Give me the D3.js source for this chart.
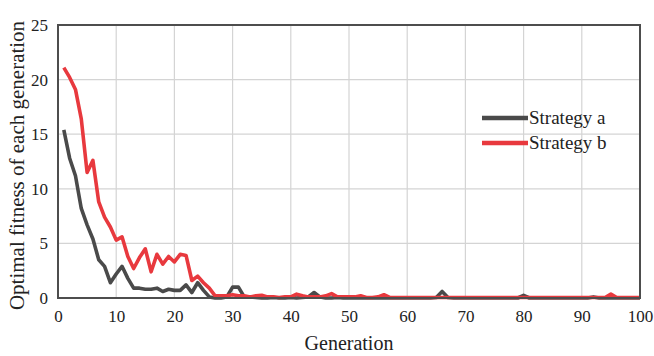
<!DOCTYPE html>
<html>
<head>
<meta charset="utf-8">
<script src="https://d3js.org/d3.v7.min.js"></script>
<style>
	body { margin: 0; background: #fff; }
	svg text { font-family: 'Liberation Serif', 'Times New Roman', Times, serif !important; fill: #222; }
</style>
</head>
<body>
<svg id="chart" width="654" height="356"></svg>
<script>
// Optimal fitness per generation, two strategies

var xTicks = [0, 10, 20, 30, 40, 50, 60, 70, 80, 90, 100];
var yTicks = [0, 5, 10, 15, 20, 25];
var seriesNames = ["Strategy a", "Strategy b"];
var seriesColors = ["#4a4a4a", "#e8393e"];

var stratA = [
	15.4, 12.8, 11.2, 8.2, 6.7, 5.4, 3.5, 2.9, 1.4, 2.2,
	2.9, 1.8, 0.9, 0.9, 0.8, 0.8, 0.9, 0.6, 0.8, 0.7,
	0.7, 1.2, 0.5, 1.4, 0.7, 0.1, 0, 0, 0.1, 1.0,
	1.0, 0.1, 0.1, 0.05, 0, 0, 0.05, 0, 0, 0.05,
	0, 0.05, 0.1, 0.5, 0.1, 0, 0, 0.05, 0, 0,
	0, 0, 0, 0, 0, 0, 0, 0, 0, 0,
	0, 0, 0, 0, 0.05, 0.6, 0.05, 0, 0, 0,
	0, 0, 0, 0, 0, 0, 0, 0, 0, 0.25,
	0, 0, 0, 0, 0, 0, 0, 0, 0, 0,
	0, 0.1, 0, 0, 0, 0, 0, 0, 0, 0
];

var stratB = [
	21.1, 20.2, 19.1, 16.4, 11.5, 12.6, 8.8, 7.4, 6.5, 5.3,
	5.6, 3.8, 2.7, 3.7, 4.5, 2.4, 4.0, 3.1, 3.8, 3.3,
	4.0, 3.9, 1.6, 2.0, 1.4, 0.9, 0.2, 0.2, 0.2, 0.3,
	0.2, 0.2, 0.1, 0.2, 0.25, 0.1, 0.1, 0.05, 0.1, 0.1,
	0.35, 0.2, 0.1, 0.1, 0.1, 0.2, 0.4, 0.1, 0.1, 0.1,
	0.1, 0.2, 0.05, 0.05, 0.1, 0.3, 0.05, 0.05, 0.05, 0.05,
	0.05, 0.05, 0.05, 0.05, 0.05, 0.05, 0.05, 0.05, 0.05, 0.05,
	0.05, 0.05, 0.05, 0.05, 0.05, 0.05, 0.05, 0.05, 0.05, 0.05,
	0.05, 0.05, 0.05, 0.05, 0.05, 0.05, 0.05, 0.05, 0.05, 0.05,
	0.05, 0.05, 0.05, 0.05, 0.35, 0.05, 0.05, 0.05, 0.05, 0.05
];

var FONT = "'Liberation Serif', 'Times New Roman', Times, serif";
var margin = { left: 58, top: 25, right: 14, bottom: 58 };
var W = 654, H = 356;
var pw = W - margin.left - margin.right;
var ph = H - margin.top - margin.bottom;

var svg = d3.select("#chart").attr("font-family", FONT);
var g = svg.append("g").attr("transform", "translate(" + margin.left + "," + margin.top + ")");

var x = d3.scaleLinear().domain([0, 100]).range([0, pw]);
var y = d3.scaleLinear().domain([0, 25]).range([ph, 0]);

	// grid
g.selectAll(".vgrid").data(xTicks.slice(1, -1)).enter().append("line")
	.attr("x1", function(d) { return x(d); }).attr("x2", function(d) { return x(d); })
	.attr("y1", 0).attr("y2", ph)
	.attr("stroke", "#d4d4d4").attr("stroke-width", 1.2);
g.selectAll(".hgrid").data(yTicks.slice(1, -1)).enter().append("line")
	.attr("x1", 0).attr("x2", pw)
	.attr("y1", function(d) { return y(d); }).attr("y2", function(d) { return y(d); })
	.attr("stroke", "#d4d4d4").attr("stroke-width", 1.2);

	// axes (labels only, frame drawn separately)
var xAxis = g.append("g").attr("transform", "translate(0," + ph + ")")
	.call(d3.axisBottom(x).tickValues(xTicks).tickSize(0).tickPadding(12));
var yAxis = g.append("g")
	.call(d3.axisLeft(y).tickValues(yTicks).tickSize(0).tickPadding(10));
[xAxis, yAxis].forEach(function(a) {
	a.attr("font-family", FONT).attr("font-size", 17);
	a.select(".domain").remove();
});

	// series
var line = d3.line()
	.x(function(d, i) { return x(i + 1); })
	.y(function(d) { return y(d); });
[stratA, stratB].forEach(function(s, k) {
	g.append("path").datum(s)
		.attr("d", line)
		.attr("fill", "none")
		.attr("stroke", seriesColors[k])
		.attr("stroke-width", 3.6)
		.attr("stroke-linejoin", "round");
});

	// frame
g.append("rect").attr("x", 0).attr("y", 0).attr("width", pw).attr("height", ph)
	.attr("fill", "none").attr("stroke", "#4d4d4d").attr("stroke-width", 2);

	// legend
var lg = svg.append("g").attr("transform", "translate(482,118)");
seriesNames.forEach(function(n, k) {
	lg.append("line").attr("x1", 0).attr("x2", 46).attr("y1", k * 25).attr("y2", k * 25)
		.attr("stroke", seriesColors[k]).attr("stroke-width", 4.5);
	lg.append("text").attr("x", 47).attr("y", k * 25 + 6)
		.attr("font-size", 19).text(n);
});

	// axis titles
svg.append("text").attr("x", margin.left + pw / 2).attr("y", 350)
	.attr("text-anchor", "middle").attr("font-size", 20).text("Generation");
svg.append("text")
	.attr("transform", "translate(24," + (margin.top + ph / 2 + 4) + ") rotate(-90)")
	.attr("text-anchor", "middle").attr("font-size", 21)
	.text("Optimal fitness of each generation");
</script>
</body>
</html>
